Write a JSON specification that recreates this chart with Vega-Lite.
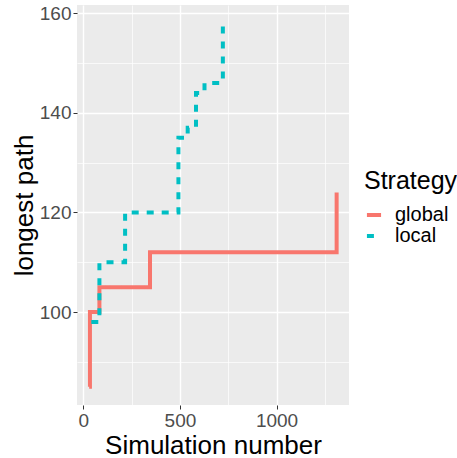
{
  "$schema": "https://vega.github.io/schema/vega-lite/v6.json",
  "width": 272,
  "height": 400,
  "autosize": {"type": "none"},
  "padding": {"left": 77, "top": 5, "right": 108, "bottom": 53},
  "background": "white",
  "config": {
    "font": "Liberation Sans",
    "view": {"fill": "#EBEBEB", "stroke": null},
    "axis": {
      "domain": false,
      "gridColor": "white",
      "tickColor": "#333333",
      "tickSize": 4,
      "labelColor": "#4D4D4D",
      "labelFontSize": 19,
      "titleFontSize": 26,
      "titleFontWeight": "normal",
      "titleColor": "black",
      "labelFont": "Liberation Sans",
      "titleFont": "Liberation Sans"
    },
    "legend": {
      "titleFontSize": 25,
      "titleFontWeight": "normal",
      "titleColor": "black",
      "labelColor": "black",
      "labelFontSize": 20,
      "labelFont": "Liberation Sans",
      "titleFont": "Liberation Sans"
    }
  },
  "data": {
    "values": [
      {"sim": 30, "path": 85, "Strategy": "global"},
      {"sim": 34, "path": 100, "Strategy": "global"},
      {"sim": 83, "path": 105, "Strategy": "global"},
      {"sim": 345, "path": 112, "Strategy": "global"},
      {"sim": 1311, "path": 124, "Strategy": "global"},
      {"sim": 41, "path": 98, "Strategy": "local"},
      {"sim": 83, "path": 110, "Strategy": "local"},
      {"sim": 216, "path": 120, "Strategy": "local"},
      {"sim": 492, "path": 135, "Strategy": "local"},
      {"sim": 540, "path": 137, "Strategy": "local"},
      {"sim": 583, "path": 144, "Strategy": "local"},
      {"sim": 627, "path": 146, "Strategy": "local"},
      {"sim": 722, "path": 158, "Strategy": "local"}
    ]
  },
  "mark": {"type": "line", "interpolate": "step-after", "strokeWidth": 4},
  "encoding": {
    "x": {
      "field": "sim",
      "type": "quantitative",
      "title": "Simulation number",
      "scale": {"domain": [-33, 1375], "nice": false, "zero": false},
      "axis": {
        "values": [0, 250, 500, 750, 1000, 1250],
        "format": "d",
        "labelExpr": "datum.value % 500 === 0 ? datum.label : ''",
        "tickColor": {"condition": {"test": "datum.value % 500 === 0", "value": "#333333"}, "value": "transparent"},
        "gridWidth": {"condition": {"test": "datum.value % 500 === 0", "value": 1.4}, "value": 0.7},
        "labelPadding": 2,
        "titlePadding": 2
      }
    },
    "y": {
      "field": "path",
      "type": "quantitative",
      "title": "longest path",
      "scale": {"domain": [81.35, 161.65], "nice": false, "zero": false},
      "axis": {
        "values": [90, 100, 110, 120, 130, 140, 150, 160],
        "format": "d",
        "labelExpr": "datum.value % 20 === 0 ? datum.label : ''",
        "tickColor": {"condition": {"test": "datum.value % 20 === 0", "value": "#333333"}, "value": "transparent"},
        "gridWidth": {"condition": {"test": "datum.value % 20 === 0", "value": 1.4}, "value": 0.7},
        "labelPadding": 2,
        "titlePadding": 2
      }
    },
    "color": {
      "field": "Strategy",
      "type": "nominal",
      "scale": {"domain": ["global", "local"], "range": ["#F8766D", "#00BFC4"]},
      "legend": {
        "orient": "none",
        "legendX": 287,
        "legendY": 164,
        "symbolType": "stroke",
        "symbolStrokeWidth": 4,
        "symbolSize": 200,
        "rowPadding": 1,
        "titlePadding": 11,
        "labelOffset": 11
      }
    },
    "strokeDash": {
      "field": "Strategy",
      "type": "nominal",
      "scale": {"domain": ["global", "local"], "range": [[1, 0], [7, 8]]}
    }
  }
}
